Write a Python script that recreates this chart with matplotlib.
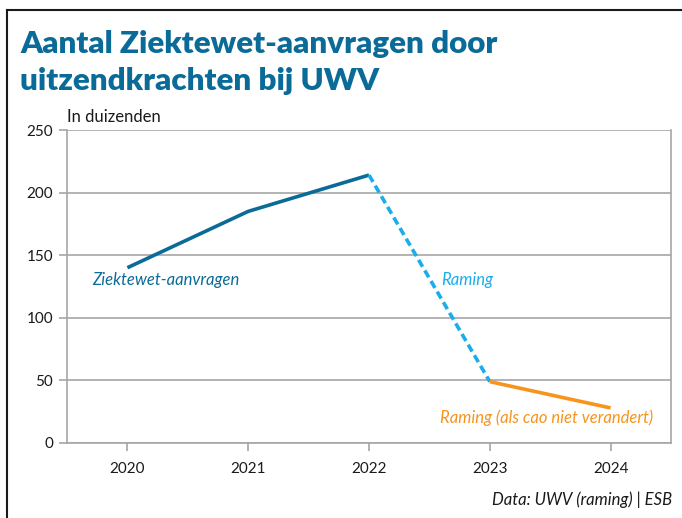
import matplotlib
matplotlib.use("Agg")
import matplotlib.pyplot as plt
from matplotlib.lines import Line2D

years = [2020, 2021, 2022, 2023, 2024]
aanvragen = [140, 185, 214]
raming = [214, 49]
raming_cao = [49, 28]
yticks = [0, 50, 100, 150, 200, 250]

dark_blue = "#0b6b98"
light_blue = "#1badea"
orange = "#f7941d"
grid_col = "#a6a6a6"

plt.rcParams['font.family'] = ['Lato', 'DejaVu Sans']

fig = plt.figure(figsize=(6.82, 5.18), dpi=100)
ax = fig.add_axes([67/682, 1-443/518, (671-67)/682, (443-130)/518])

ax.plot(years[:3], aanvragen, color=dark_blue, lw=2.6, solid_capstyle='butt')
ax.plot(years[2:4], raming, color=light_blue, lw=2.6, ls=(0, (2.2, 1.2)))
ax.plot(years[3:], raming_cao, color=orange, lw=2.6, solid_capstyle='butt')

ax.set_xlim(2019.5, 2024.5)
ax.set_ylim(0, 250)
ax.set_xticks(years)
ax.set_yticks(yticks)
ax.tick_params(axis='both', colors=grid_col, labelcolor='#1a1a1a', labelsize=11, length=6, width=1.2)
ax.tick_params(axis='y', pad=4)
ax.tick_params(axis='x', pad=8)
ax.grid(axis='y', color=grid_col, lw=1.2)
ax.set_axisbelow(True)
for s in ['left', 'bottom', 'right']:
    ax.spines[s].set_color(grid_col)
    ax.spines[s].set_linewidth(1.2)
ax.spines['top'].set_visible(False)

ax.text(2020.32, 130, "Ziektewet-aanvragen", color=dark_blue, style='italic', fontsize=12, ha='center', va='center')
ax.text(2022.6, 130, "Raming", color=light_blue, style='italic', fontsize=12, ha='left', va='center')
ax.text(2023.47, 20, "Raming (als cao niet verandert)", color=orange, style='italic', fontsize=12, ha='center', va='center')

fig.text(67/682, 1-117/518, "In duizenden", fontsize=12, color='#1a1a1a', ha='left', va='center')
fig.text(20/682, 1-44/518, "Aantal Ziektewet-aanvragen door", fontsize=22.5, fontweight='heavy', color=dark_blue, ha='left', va='center')
fig.text(20/682, 1-81/518, "uitzendkrachten bij UWV", fontsize=22.5, fontweight='heavy', color=dark_blue, ha='left', va='center')
fig.text(672/682, 1-500/518, "Data: UWV (raming) | ESB", fontsize=12, style='italic', color='#1a1a1a', ha='right', va='center')

fig.add_artist(Line2D([7/682, 7/682], [0, 1-10/518], color='#1a1a1a', lw=1.5, transform=fig.transFigure))
fig.add_artist(Line2D([7/682, 1], [1-10/518, 1-10/518], color='#1a1a1a', lw=1.5, transform=fig.transFigure))

fig.savefig("out.png", dpi=100)
